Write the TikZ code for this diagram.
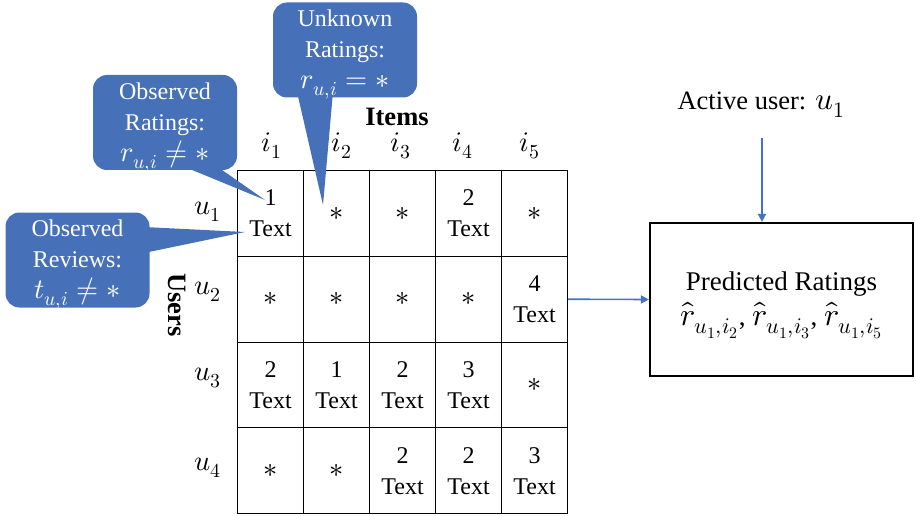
\documentclass[tikz,border=0pt]{standalone}
\usepackage{fontspec}
\usepackage{unicode-math}
\setmainfont{Liberation Serif}
\setmathfont{latinmodern-math.otf}[Scale=1.18]
\usetikzlibrary{arrows.meta}
\definecolor{bubblefill}{RGB}{70,112,184}
\definecolor{flowblue}{RGB}{68,114,196}

\begin{document}
\begin{tikzpicture}[x=1pt,y=-1pt,
  every node/.style={font=\fontsize{24}{31}\selectfont, inner sep=0pt},
  cell/.style={draw, line width=1.2pt, minimum width=66pt, minimum height=85.75pt,
    align=center, anchor=north west},
  bubble/.style={fill=bubblefill, rounded corners=14pt,
    minimum width=144pt, minimum height=95pt},
  bubbletext/.style={text=white, align=center, yshift=-5pt},
  pointer/.style={fill=bubblefill},
  flow/.style={draw=flowblue, line width=1.6pt, -{Triangle[length=8pt,width=8pt]}},
  heading/.style={font=\fontsize{26.5}{30}\selectfont\bfseries}]
\useasboundingbox (0,0) rectangle (916,516);

% rating / review matrix
\node[cell] (c11) at (237,170)    {1\\Text};
\node[cell] (c12) at (303,170)    {$\ast$};
\node[cell] (c13) at (369,170)    {$\ast$};
\node[cell] (c14) at (435,170)    {2\\Text};
\node[cell] (c15) at (501,170)    {$\ast$};
\node[cell] (c21) at (237,255.75) {$\ast$};
\node[cell] (c22) at (303,255.75) {$\ast$};
\node[cell] (c23) at (369,255.75) {$\ast$};
\node[cell] (c24) at (435,255.75) {$\ast$};
\node[cell] (c25) at (501,255.75) {4\\Text};
\node[cell] (c31) at (237,341.5)  {2\\Text};
\node[cell] (c32) at (303,341.5)  {1\\Text};
\node[cell] (c33) at (369,341.5)  {2\\Text};
\node[cell] (c34) at (435,341.5)  {3\\Text};
\node[cell] (c35) at (501,341.5)  {$\ast$};
\node[cell] (c41) at (237,427.25) {$\ast$};
\node[cell] (c42) at (303,427.25) {$\ast$};
\node[cell] (c43) at (369,427.25) {2\\Text};
\node[cell] (c44) at (435,427.25) {2\\Text};
\node[cell] (c45) at (501,427.25) {3\\Text};

% axis titles and labels
\node[heading] (items) at (397,117) {Items};
\node[heading, rotate=-90] (users) at (177,305) {Users};
\node (i1) at (272,146) {$i_1$};
\node (i2) at (342,146) {$i_2$};
\node (i3) at (401,146) {$i_3$};
\node (i4) at (463,146) {$i_4$};
\node (i5) at (530,146) {$i_5$};
\node (u1) at (208,212) {$u_1$};
\node (u2) at (208,292) {$u_2$};
\node (u3) at (208,378) {$u_3$};
\node (u4) at (208,468) {$u_4$};

% callouts: pointer wedge, rounded body, text
\coordinate (tipOR) at (265,200);
\coordinate (tipUR) at (323,205);
\coordinate (tipOV) at (245,232);
\fill[pointer] (180,165) -- (tipOR) -- (215,165) -- cycle;
\fill[pointer] (297,92) -- (tipUR) -- (333,92) -- cycle;
\fill[pointer] (144,227) -- (tipOV) -- (144,253) -- cycle;
\node[bubble] (obsratbox) at (165,122.5) {};
\node[bubble] (unkratbox) at (345,50)    {};
\node[bubble] (obsrevbox) at (77.5,260)  {};
\node[bubbletext] (obsrat) at (obsratbox.center) {Observed\\Ratings:\\$r_{u,i}\neq\ast$};
\node[bubbletext] (unkrat) at (unkratbox.center) {Unknown\\Ratings:\\$r_{u,i}=\ast$};
\node[bubbletext] (obsrev) at (obsrevbox.center) {Observed\\Reviews:\\$t_{u,i}\neq\ast$};

% prediction box and its caption
\node[draw, line width=2.2pt, minimum width=263pt, minimum height=153pt] (pred) at (781.5,299.5) {};
\node[align=center, font=\fontsize{27}{35}\selectfont, yshift=-6pt] (predtext) at (pred.center)
  {Predicted Ratings\\$\widehat{r}_{u_1,i_2}$, $\widehat{r}_{u_1,i_3}$, $\widehat{r}_{u_1,i_5}$};
\node[font=\fontsize{26.5}{30}\selectfont] (active) at (761,105) {Active user: $u_1$};
\coordinate (activeout) at (762,138);

\draw[flow] (c25.east) -- (pred.west);
\draw[flow] (activeout) -- (activeout |- pred.north);
\end{tikzpicture}
\end{document}
